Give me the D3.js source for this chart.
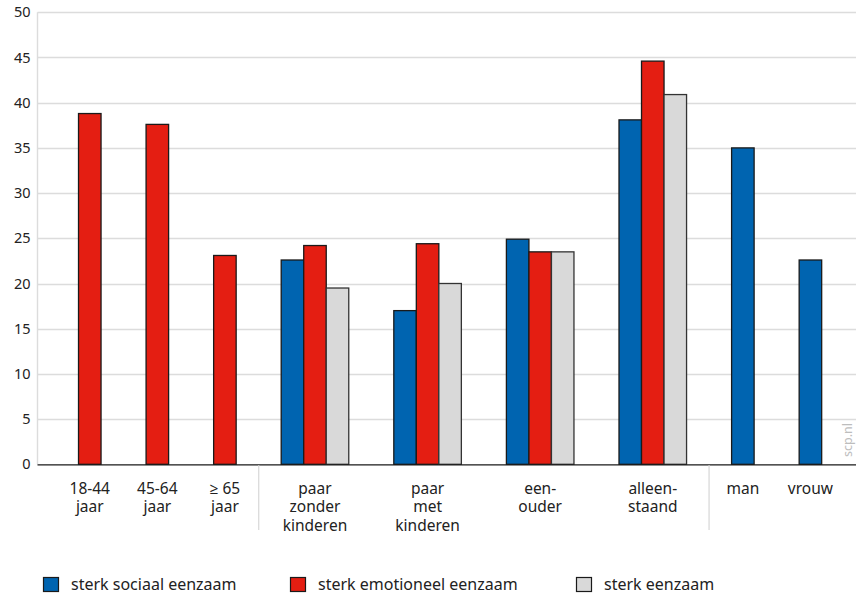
<!DOCTYPE html>
<html>
<head>
<meta charset="utf-8">
<script src="https://cdn.jsdelivr.net/npm/d3@7"></script>
<style>
html,body{margin:0;padding:0;background:#fff;}
svg{display:block;font-family:"Noto Sans","Open Sans",sans-serif;}
</style>
</head>
<body>
<svg id="chart" width="856" height="596"></svg>
<script>
// ---- data ----
const categories = [
  ["18-44","jaar"],
  ["45-64","jaar"],
  ["\u2265 65","jaar"],
  ["paar","zonder","kinderen"],
  ["paar","met","kinderen"],
  ["een-","ouder"],
  ["alleen-","staand"],
  ["man"],
  ["vrouw"]
];
const seriesNames = ["sterk sociaal eenzaam","sterk emotioneel eenzaam","sterk eenzaam"];
const sociaal    = [null, null, null, 22.6, 17.0, 24.9, 38.1, 35.0, 22.6];
const emotioneel = [38.8, 37.6, 23.1, 24.2, 24.4, 23.5, 44.6, null, null];
const eenzaam    = [null, null, null, 19.5, 20.0, 23.5, 40.9, null, null];
const separatorsAfter = [2, 6];
const yTicks = [0,5,10,15,20,25,30,35,40,45,50];
const colors = ["#0064b0", "#e41e12", "#d9d9d9"];

// ---- layout ----
const svg = d3.select("#chart");
const W = 856, H = 596;
const series = [sociaal, emotioneel, eenzaam];

// unit-based slots: each category = bars + 2 units gap
let cum = 0;
const layout = categories.map((c, i) => {
  const present = series.map((s, k) => ({k, v: s[i]})).filter(d => d.v !== null);
  const start = cum;
  cum += present.length + 2;
  return {i, label: c, present, start, end: cum};
});
const totalUnits = cum;

const x = d3.scaleLinear().domain([0, totalUnits]).range([56, 844.2]);
const y = d3.scaleLinear().domain([0, 50]).range([464.3, 12.3]);
const plotLeft = 37.5, plotRight = W;

// gridlines
svg.append("g").selectAll("line").data(yTicks.filter(t => t > 0)).join("line")
  .attr("x1", plotLeft).attr("x2", plotRight)
  .attr("y1", d => Math.round(y(d)) + 0.5).attr("y2", d => Math.round(y(d)) + 0.5)
  .attr("stroke", "#dcdcdc").attr("stroke-width", 1.4);

// y axis line (light)
svg.append("line").attr("x1", plotLeft).attr("x2", plotLeft)
  .attr("y1", y(50)).attr("y2", y(0))
  .attr("stroke", "#dcdcdc").attr("stroke-width", 1.4);

// y axis labels
const yAxis = d3.axisLeft(y).tickValues(yTicks).tickSize(0).tickPadding(0);
const yg = svg.append("g").attr("transform", `translate(${plotLeft - 7},0)`).call(yAxis);
yg.select(".domain").remove();
yg.selectAll("text").attr("font-size", 14.5).attr("fill", "#222")
  .attr("font-family", "'Noto Sans','Open Sans',sans-serif");

// bars
const barsG = svg.append("g");
layout.forEach(cat => {
  cat.present.forEach((d, j) => {
    const x0 = x(cat.start + 1 + j), x1 = x(cat.start + 2 + j);
    barsG.append("rect")
      .attr("x", x0).attr("width", x1 - x0)
      .attr("y", y(d.v)).attr("height", y(0) - y(d.v))
      .attr("fill", colors[d.k])
      .attr("stroke", d.k === 2 ? "#333" : "#1a1a1a")
      .attr("stroke-width", 1.3);
  });
});

// x axis baseline
svg.append("line").attr("x1", plotLeft).attr("x2", plotRight)
  .attr("y1", y(0) + 0.5).attr("y2", y(0) + 0.5)
  .attr("stroke", "#1a1a1a").attr("stroke-width", 1.3);

// separators below axis
separatorsAfter.forEach(i => {
  const xs = x(layout[i].end);
  svg.append("line").attr("x1", xs).attr("x2", xs)
    .attr("y1", y(0) + 1).attr("y2", 530)
    .attr("stroke", "#dcdcdc").attr("stroke-width", 1.4);
});

// category labels
layout.forEach(cat => {
  const cx = x((cat.start + cat.end) / 2);
  const t = svg.append("text").attr("text-anchor", "middle")
    .attr("font-size", 15.5).attr("fill", "#222");
  cat.label.forEach((line, li) => {
    t.append("tspan").attr("x", cx).attr("y", 494 + li * 18.3).text(line);
  });
});

// watermark
svg.append("text").attr("transform", "translate(852,440) rotate(-90)")
  .attr("text-anchor", "middle").attr("font-size", 12.5).attr("fill", "#bdbdbd")
  .text("scp.nl");

// legend
const legendX = [43, 290, 576];
seriesNames.forEach((name, k) => {
  const g = svg.append("g").attr("transform", `translate(${legendX[k]},577)`);
  g.append("rect").attr("x", 0.5).attr("y", 0.5).attr("width", 15).attr("height", 14)
    .attr("fill", colors[k]).attr("stroke", "#1a1a1a").attr("stroke-width", 1.2);
  g.append("text").attr("x", 28).attr("y", 13).attr("font-size", 16)
    .attr("fill", "#222").text(name);
});
</script>
</body>
</html>
